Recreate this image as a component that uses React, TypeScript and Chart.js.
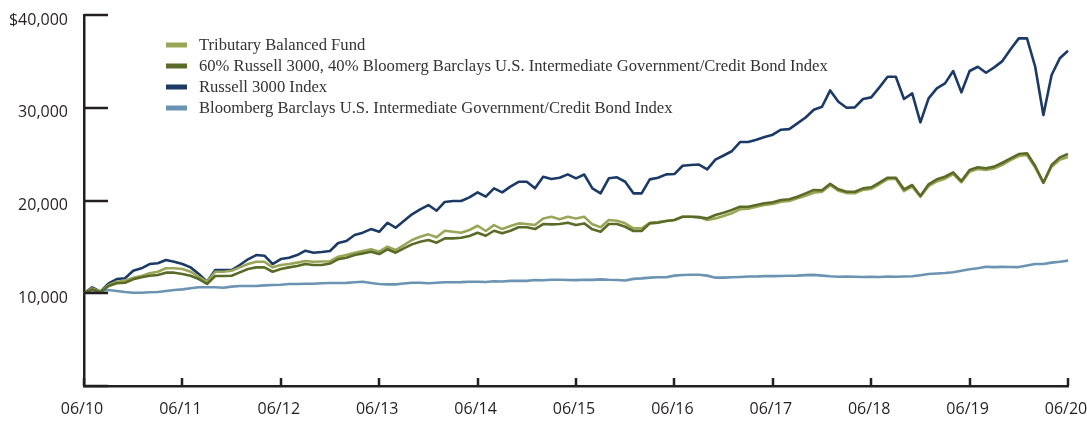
import React, { useEffect, useRef } from 'react';
import { Chart, registerables } from 'chart.js';

Chart.register(...registerables);

// Year tick labels (fiscal June year-ends)
const yearLabels = ['06/10', '06/11', '06/12', '06/13', '06/14', '06/15', '06/16', '06/17', '06/18', '06/19', '06/20'];
const yTickLabels = ['', '10,000', '20,000', '30,000', '$40,000'];

const seriesNames = [
  'Tributary Balanced Fund',
  '60% Russell 3000, 40% Bloomerg Barclays U.S. Intermediate Government/Credit Bond Index',
  'Russell 3000 Index',
  'Bloomberg Barclays U.S. Intermediate Government/Credit Bond Index',
];
const seriesColors = ['#9aa657', '#5a6b28', '#1b3a66', '#6a94b2'];

// Monthly values, 06/2010 .. 06/2020 (121 points)
const tributary = [
  10000, 10530, 10170, 10890, 11240, 11350, 11680, 11860, 12150, 12320, 12690, 12690,
  12610, 12320, 11780, 11240, 12320, 12320, 12430, 12790, 13150, 13400, 13400, 12790,
  13040, 13150, 13300, 13480, 13400, 13420, 13450, 13940, 14120, 14370, 14550, 14740,
  14480, 15020, 14660, 15200, 15740, 16100, 16350, 16030, 16740, 16630, 16530, 16820,
  17280, 16710, 17350, 16920, 17250, 17530, 17460, 17350, 18070, 18250, 17970, 18250,
  18070, 18250, 17430, 17110, 17900, 17820, 17540, 17000, 17000, 17600, 17680, 17790,
  17900, 18250, 18250, 18250, 17900, 18070, 18330, 18620, 19050, 19110, 19330, 19510,
  19620, 19870, 19940, 20230, 20520, 20840, 20950, 21650, 21050, 20800, 20780, 21150,
  21250, 21750, 22300, 22350, 21000, 21500, 20400, 21550, 22050, 22350, 22850, 21950,
  23100, 23400, 23300, 23450, 23850, 24350, 24800, 24900, 23550, 21900, 23650, 24400,
  24700,
];

const blend6040 = [
  10000, 10420, 10100, 10780, 11070, 11140, 11500, 11720, 11890, 11970, 12220, 12220,
  12080, 11890, 11530, 11000, 11860, 11860, 11890, 12250, 12610, 12790, 12790, 12320,
  12610, 12790, 12940, 13150, 13040, 13040, 13200, 13680, 13830, 14120, 14300, 14480,
  14230, 14740, 14370, 14840, 15270, 15560, 15740, 15450, 15920, 15920, 15990, 16170,
  16530, 16200, 16740, 16460, 16740, 17110, 17110, 16920, 17460, 17430, 17460, 17600,
  17350, 17530, 16890, 16630, 17460, 17460, 17170, 16710, 16710, 17530, 17600, 17790,
  17900, 18250, 18250, 18180, 18070, 18430, 18690, 18970, 19330, 19330, 19510, 19700,
  19800, 20050, 20130, 20410, 20770, 21130, 21100, 21810, 21200, 20950, 20950, 21310,
  21420, 21920, 22460, 22460, 21200, 21670, 20480, 21740, 22280, 22560, 23040, 22100,
  23280, 23580, 23470, 23650, 24070, 24550, 25010, 25090, 23720, 21920, 23830, 24650,
  25010,
];

const russell3000 = [
  10000, 10640, 10170, 11070, 11530, 11610, 12430, 12690, 13150, 13230, 13580, 13400,
  13150, 12790, 12070, 11240, 12500, 12500, 12500, 13040, 13660, 14120, 14050, 13150,
  13690, 13830, 14120, 14590, 14370, 14450, 14550, 15420, 15630, 16280, 16530, 16920,
  16630, 17600, 17070, 17790, 18510, 19050, 19510, 18900, 19840, 19940, 19940, 20340,
  20880, 20410, 21310, 20880, 21490, 22020, 22020, 21310, 22560, 22310, 22450, 22820,
  22390, 22800, 21310, 20770, 22390, 22500, 22020, 20770, 20770, 22280, 22460, 22820,
  22850, 23750, 23820, 23880, 23360, 24400, 24850, 25310, 26300, 26300, 26550, 26850,
  27100, 27630, 27700, 28320, 28950, 29790, 30110, 31870, 30650, 30000, 30040, 30940,
  31120, 32200, 33340, 33340, 30940, 31550, 28430, 31010, 32090, 32630, 33960, 31660,
  33960, 34420, 33770, 34350, 35030, 36300, 37480, 37480, 34420, 29210, 33530, 35330,
  36150,
];

const bondIndex = [
  10000, 10170, 10240, 10350, 10240, 10130, 10060, 10060, 10100, 10130, 10240, 10350,
  10420, 10530, 10640, 10640, 10640, 10600, 10710, 10780, 10780, 10780, 10850, 10890,
  10920, 11000, 11000, 11030, 11030, 11070, 11100, 11100, 11120, 11180, 11240, 11100,
  11000, 10960, 10960, 11050, 11140, 11140, 11080, 11140, 11180, 11180, 11200, 11240,
  11240, 11220, 11290, 11270, 11330, 11350, 11330, 11430, 11400, 11450, 11450, 11430,
  11420, 11450, 11440, 11500, 11450, 11430, 11380, 11550, 11600, 11680, 11720, 11720,
  11900, 11970, 12000, 12000, 11900, 11680, 11680, 11720, 11760, 11800, 11800, 11850,
  11850, 11860, 11880, 11900, 11950, 11980, 11900, 11830, 11780, 11800, 11780, 11760,
  11780, 11760, 11800, 11780, 11800, 11830, 11950, 12080, 12130, 12180, 12260, 12430,
  12580, 12690, 12860, 12820, 12840, 12830, 12820, 13000, 13150, 13150, 13300, 13400,
  13520,
];

const monthNames = ['06', '07', '08', '09', '10', '11', '12', '01', '02', '03', '04', '05'];

function buildMonthLabels(): string[] {
  const out: string[] = [];
  for (let i = 0; i < yearLabels.length; i++) {
    const yy = yearLabels[i].slice(3);
    if (i === yearLabels.length - 1) {
      out.push('06/' + yy);
    } else {
      const next = yearLabels[i + 1].slice(3);
      monthNames.forEach((m, k) => out.push(m + '/' + (k < 7 ? yy : next)));
    }
  }
  return out;
}

const AXIS_COLOR = '#231f20';
const TEXT_COLOR = '#231f20';

const axisTicksPlugin = {
  id: 'axisTicks',
  afterDatasetsDraw(chart: any) {
    const { ctx, chartArea, scales } = chart;
    const x = scales.x;
    const y = scales.y;
    ctx.save();
    ctx.strokeStyle = AXIS_COLOR;
    ctx.lineWidth = 2.5;
    ctx.lineCap = 'butt';
    // y ticks, drawn inward
    y.ticks.forEach((t: any) => {
      const py = Math.round(y.getPixelForValue(t.value));
      ctx.beginPath();
      ctx.moveTo(chartArea.left, py);
      ctx.lineTo(chartArea.left + 24, py);
      ctx.stroke();
    });
    // x ticks (yearly), drawn upward
    const labels = chart.data.labels as string[];
    labels.forEach((lab: string, i: number) => {
      if (i % 12 !== 0) return;
      const px = Math.round(x.getPixelForValue(i));
      ctx.beginPath();
      ctx.moveTo(px, chartArea.bottom);
      ctx.lineTo(px, chartArea.bottom - 8);
      ctx.stroke();
    });
    ctx.restore();
  },
};

const legendPlugin = {
  id: 'customLegend',
  afterDraw(chart: any) {
    const { ctx, chartArea } = chart;
    const left = chartArea.left + 82;
    const top = chartArea.top + 30;
    ctx.save();
    ctx.font = '16.6px "Liberation Serif", "Times New Roman", serif';
    ctx.textBaseline = 'middle';
    ctx.textAlign = 'left';
    chart.data.datasets.forEach((ds: any, i: number) => {
      const yy = top + i * 21;
      ctx.fillStyle = ds.borderColor;
      ctx.fillRect(left, yy - 2.5, 21, 5);
      ctx.fillStyle = '#333333';
      ctx.fillText(ds.label, left + 33, yy + 1);
    });
    ctx.restore();
  },
};

export default function App() {
  const canvasRef = useRef<HTMLCanvasElement | null>(null);

  useEffect(() => {
    document.body.style.margin = '0';
    const canvas = canvasRef.current;
    if (!canvas) return;
    const monthLabels = buildMonthLabels();
    const values = [tributary, blend6040, russell3000, bondIndex];
    const drawOrder = [2, 1, 3, 4];
    const chart = new Chart(canvas, {
      type: 'line',
      data: {
        labels: monthLabels,
        datasets: values.map((v, i) => ({
          label: seriesNames[i],
          data: v,
          borderColor: seriesColors[i],
          backgroundColor: seriesColors[i],
          borderWidth: 2.6,
          pointRadius: 0,
          tension: 0,
          fill: false,
          borderJoinStyle: 'round' as const,
          order: drawOrder[i],
        })),
      },
      options: {
        animation: false,
        responsive: true,
        maintainAspectRatio: false,
        layout: { padding: { top: 15, right: 19, left: 0, bottom: 0 } },
        plugins: {
          legend: { display: false },
          tooltip: { enabled: false },
        },
        scales: {
          x: {
            type: 'category',
            offset: false,
            grid: { display: false, drawTicks: false },
            border: { display: true, color: AXIS_COLOR, width: 2.5 },
            ticks: {
              autoSkip: false,
              maxRotation: 0,
              padding: 14,
              labelOffset: -2,
              color: TEXT_COLOR,
              font: { family: '"Open Sans", sans-serif', size: 16 },
              callback: (_v: any, i: number) => (i % 12 === 0 ? yearLabels[i / 12] : null),
            },
            afterFit: (s: any) => {
              s.height = 36;
              s.paddingLeft = 0;
              s.paddingRight = 0;
            },
          },
          y: {
            min: 0,
            max: 40000,
            grid: { display: false, drawTicks: false },
            border: { display: true, color: AXIS_COLOR, width: 2.5 },
            ticks: {
              stepSize: 10000,
              padding: 16,
              labelOffset: 5,
              color: TEXT_COLOR,
              font: { family: '"Open Sans", sans-serif', size: 16 },
              callback: (v: any) => yTickLabels[Math.round(Number(v) / 10000)],
            },
            afterFit: (s: any) => {
              s.width = 84;
              s.paddingTop = 0;
              s.paddingBottom = 0;
            },
          },
        },
      },
      plugins: [axisTicksPlugin, legendPlugin],
    });
    return () => chart.destroy();
  }, []);

  return (
    <div style={{ width: 1087, height: 422, position: 'relative' }}>
      <canvas ref={canvasRef} />
    </div>
  );
}
